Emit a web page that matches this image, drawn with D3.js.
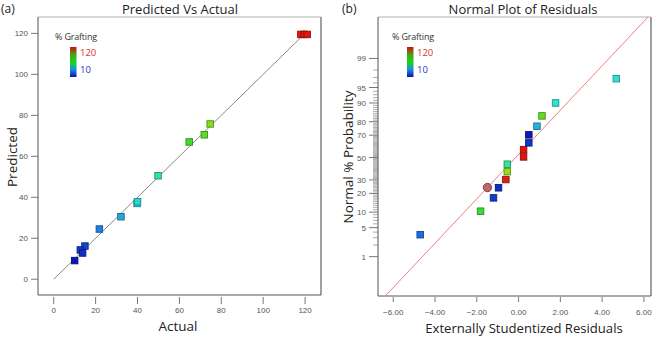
<!DOCTYPE html>
<html>
<head>
<meta charset="utf-8">
<script src="https://cdn.jsdelivr.net/npm/d3@7"></script>
<style>
  html, body { margin: 0; padding: 0; background: #fff; }
  svg { display: block; }
</style>
</head>
<body>
<div id="chart"></div>
<script>
'use strict'

// ---------- data ----------
// panel (a): predicted vs actual, % grafting
const actualVals    = [118, 119.5, 121, 74.7, 71.9, 64.7, 49.8, 39.8, 40.0, 32.1, 21.8, 14.9, 12.7, 13.8, 10.0]
const predictedVals = [119.5, 119.5, 119.5, 75.8, 70.5, 67.0, 50.5, 37.0, 37.8, 30.5, 24.5, 16.2, 14.3, 12.8, 9.1]

// panel (b): externally studentized residuals vs normal % probability
const residVals  = [-4.71, -1.82, -1.20, -0.96, -0.61, -0.54, -0.54, 0.24, 0.24, 0.49, 0.49, 0.88, 1.12, 1.77, 4.68]
const probVals   = [3.5, 10.4, 17.2, 23.9, 30.3, 37.1, 43.8, 50.6, 57.4, 63.5, 70.3, 76.9, 83.6, 90.0, 96.8]
const graftVals  = [21.8, 64.7, 14.9, 12.7, 118, 78, 49.8, 119.5, 121, 13.8, 10.0, 32.1, 71.9, 40.0, 39.8]
// highlighted run (circle)
const circleResid = -1.49, circleProb = 24.1
// normal reference line, [residual, normal score]
const refLine = [[-6.38, -3.25], [6.2, 3.30]]

const xTicksA = [0, 20, 40, 60, 80, 100, 120]
const yTicksA = [0, 20, 40, 60, 80, 100, 120]
const xTicksB = [-6, -4, -2, 0, 2, 4, 6]
const yTicksB = [1, 5, 10, 20, 30, 50, 70, 80, 90, 95, 99]

// ---------- setup ----------
const svgWidth = 660, svgHeight = 337
const svg = d3.select('#chart').append('svg')
    .attr('width', svgWidth).attr('height', svgHeight)
    .style('font-family', '"Open Sans", sans-serif')

const colorScale = d3.scaleLinear()
    .domain([10, 22, 33, 40, 50, 66, 80, 120])
    .range(['#0c1ab8', '#1c6ee0', '#28b8dc', '#2ee2d4', '#34e49a', '#3ed82c', '#9ce018', '#e01414'])

const tickFont = '"Liberation Sans Narrow", "Liberation Sans", sans-serif'

// inverse normal CDF (Acklam)
function probit(p) {
    const a = [-39.69683028665376, 220.9460984245205, -275.9285104469687, 138.3577518672690, -30.66479806614716, 2.506628277459239]
    const b = [-54.47609879822406, 161.5858368580409, -155.6989798598866, 66.80131188771972, -13.28068155211947]
    const c = [-0.007784894002430293, -0.3223964580411365, -2.400758277161838, -2.549732539343734, 4.374664141464968, 2.938163982698783]
    const d = [0.007784695709041462, 0.3224671290700398, 2.445134137142996, 3.754408661907416]
    const pl = 0.02425
    let q, r
    if (p < pl) {
        q = Math.sqrt(-2 * Math.log(p))
        return (((((c[0]*q+c[1])*q+c[2])*q+c[3])*q+c[4])*q+c[5]) / ((((d[0]*q+d[1])*q+d[2])*q+d[3])*q+1)
    } else if (p <= 1 - pl) {
        q = p - 0.5; r = q*q
        return (((((a[0]*r+a[1])*r+a[2])*r+a[3])*r+a[4])*r+a[5])*q / (((((b[0]*r+b[1])*r+b[2])*r+b[3])*r+b[4])*r+1)
    } else {
        q = Math.sqrt(-2 * Math.log(1 - p))
        return -(((((c[0]*q+c[1])*q+c[2])*q+c[3])*q+c[4])*q+c[5]) / ((((d[0]*q+d[1])*q+d[2])*q+d[3])*q+1)
    }
}

function frame(g, x0, y0, x1, y1) {
    g.append('line').attr('x1', x0).attr('x2', x1).attr('y1', y0).attr('y2', y0)
        .attr('stroke', '#b0b0b0').attr('stroke-width', 1.2)
    g.append('line').attr('x1', x1).attr('x2', x1).attr('y1', y0).attr('y2', y1)
        .attr('stroke', '#a0a0a0').attr('stroke-width', 2)
    g.append('line').attr('x1', x0).attr('x2', x0).attr('y1', y0).attr('y2', y1)
        .attr('stroke', '#555').attr('stroke-width', 1)
    g.append('line').attr('x1', x0).attr('x2', x1).attr('y1', y1).attr('y2', y1)
        .attr('stroke', '#555').attr('stroke-width', 1)
}

function legend(g, lx, ly) {
    const grad = svg.append('defs').append('linearGradient')
        .attr('id', 'grad' + lx).attr('x1', 0).attr('x2', 0).attr('y1', 1).attr('y2', 0)
    ;[['0%', '#0a10b8'], ['25%', '#1e8ed8'], ['50%', '#18d818'], ['75%', '#4aa010'], ['100%', '#d01010']]
        .forEach(s => grad.append('stop').attr('offset', s[0]).attr('stop-color', s[1]))
    g.append('text').attr('x', lx).attr('y', ly).text('% Grafting')
        .style('font-size', '9px').style('fill', '#333').style('letter-spacing', '-0.2px')
    g.append('rect').attr('x', lx + 15).attr('y', ly + 7).attr('width', 6.5).attr('height', 30)
        .attr('fill', `url(#grad${lx})`)
    g.append('text').attr('x', lx + 25).attr('y', ly + 16).text('120')
        .style('font-size', '9.5px').style('fill', '#e03030')
    g.append('text').attr('x', lx + 25).attr('y', ly + 33).text('10')
        .style('font-size', '9.5px').style('fill', '#3030d0')
}

function square(g, cx, cy, fill, s = 6.5) {
    g.append('rect')
        .attr('x', cx - s / 2).attr('y', cy - s / 2)
        .attr('width', s).attr('height', s)
        .attr('fill', fill)
        .attr('stroke', d3.color(fill).darker(1.2))
        .attr('stroke-width', 0.9)
}

// ---------- panel (a) ----------
const ga = svg.append('g')
const xA = d3.scaleLinear().domain([-7.5, 127.6]).range([38, 321])
const yA = d3.scaleLinear().domain([-7.7, 128]).range([295, 17])

frame(ga, 38, 17, 321, 295)

ga.selectAll('.ytick').data(yTicksA).join('line')
    .attr('x1', 31).attr('x2', 38).attr('y1', d => yA(d)).attr('y2', d => yA(d))
    .attr('stroke', '#555').attr('stroke-width', 0.8)
ga.selectAll('.ylab').data(yTicksA).join('text')
    .attr('x', 28).attr('y', d => yA(d) + 3).attr('text-anchor', 'end')
    .text(d => d).style('font-size', '8px').style('fill', '#555').style('font-family', tickFont)
ga.selectAll('.xtick').data(xTicksA).join('line')
    .attr('x1', d => xA(d)).attr('x2', d => xA(d)).attr('y1', 297).attr('y2', 304)
    .attr('stroke', '#555').attr('stroke-width', 0.8)
ga.selectAll('.xlab').data(xTicksA).join('text')
    .attr('x', d => xA(d)).attr('y', 313).attr('text-anchor', 'middle')
    .text(d => d).style('font-size', '8px').style('fill', '#555').style('font-family', tickFont)

ga.append('line')
    .attr('x1', xA(0)).attr('y1', yA(0)).attr('x2', xA(120)).attr('y2', yA(120))
    .attr('stroke', '#6a6a6a').attr('stroke-width', 0.8)

actualVals.forEach((a, i) => square(ga, xA(a), yA(predictedVals[i]), colorScale(predictedVals[i])))

legend(ga, 55, 40)

ga.append('text').attr('x', 180).attr('y', 13.5).attr('text-anchor', 'middle')
    .text('Predicted Vs Actual').style('font-size', '13px').style('fill', '#222')
ga.append('text').attr('x', 1).attr('y', 13).text('(a)')
    .style('font-size', '12px').style('fill', '#222')
ga.append('text').attr('x', 178).attr('y', 331).attr('text-anchor', 'middle')
    .text('Actual').style('font-size', '13.5px').style('fill', '#222')
ga.append('text').attr('transform', 'translate(17,157) rotate(-90)').attr('text-anchor', 'middle')
    .text('Predicted').style('font-size', '13.5px').style('fill', '#222')

// ---------- panel (b) ----------
const gb = svg.append('g')
const xB = d3.scaleLinear().domain([-6.73, 6.34]).range([378, 651])
const zB = d3.scaleLinear().domain([-3.25, 3.30]).range([296, 17])
const yB = p => zB(probit(p / 100))

gb.append('clipPath').attr('id', 'clipB').append('rect')
    .attr('x', 378).attr('y', 17).attr('width', 273).attr('height', 279)

const minorB = d3.range(1, 100).filter(p => !yTicksB.includes(p))
gb.selectAll('.minor').data(minorB).join('line')
    .attr('x1', 373).attr('x2', 378).attr('y1', d => yB(d)).attr('y2', d => yB(d))
    .attr('stroke', '#777').attr('stroke-width', 0.6)
gb.selectAll('.ytick').data(yTicksB).join('line')
    .attr('x1', 369).attr('x2', 378).attr('y1', d => yB(d)).attr('y2', d => yB(d))
    .attr('stroke', '#555').attr('stroke-width', 0.8)
gb.selectAll('.ylab').data(yTicksB).join('text')
    .attr('x', 366).attr('y', d => yB(d) + 3).attr('text-anchor', 'end')
    .text(d => d).style('font-size', '8px').style('fill', '#555').style('font-family', tickFont)
gb.selectAll('.xtick').data(xTicksB).join('line')
    .attr('x1', d => xB(d)).attr('x2', d => xB(d)).attr('y1', 297).attr('y2', 302)
    .attr('stroke', '#555').attr('stroke-width', 0.8)
gb.selectAll('.xlab').data(xTicksB).join('text')
    .attr('x', d => xB(d)).attr('y', 315).attr('text-anchor', 'middle')
    .text(d => d3.format('.2f')(d)).style('font-size', '8px').style('fill', '#555').style('font-family', tickFont)

frame(gb, 378, 17, 651, 296)

gb.append('line').attr('clip-path', 'url(#clipB)')
    .attr('x1', xB(refLine[0][0])).attr('y1', zB(refLine[0][1]))
    .attr('x2', xB(refLine[1][0])).attr('y2', zB(refLine[1][1]))
    .attr('stroke', '#f08080').attr('stroke-width', 1)

residVals.forEach((r, i) => square(gb, xB(r), yB(probVals[i]), colorScale(graftVals[i])))

gb.append('circle').attr('cx', xB(circleResid)).attr('cy', yB(circleProb)).attr('r', 4.2)
    .attr('fill', '#b86a6a').attr('stroke', '#7a3c3c').attr('stroke-width', 0.9)

legend(gb, 392, 40)

gb.append('text').attr('x', 523).attr('y', 13.5).attr('text-anchor', 'middle')
    .text('Normal Plot of Residuals').style('font-size', '13px').style('fill', '#222')
gb.append('text').attr('x', 342).attr('y', 13).text('(b)')
    .style('font-size', '12px').style('fill', '#222')
gb.append('text').attr('x', 524).attr('y', 333).attr('text-anchor', 'middle')
    .text('Externally Studentized Residuals').style('font-size', '13.1px').style('fill', '#222')
gb.append('text').attr('transform', 'translate(353,157) rotate(-90)').attr('text-anchor', 'middle')
    .text('Normal % Probability').style('font-size', '13.5px').style('fill', '#222')
</script>
</body>
</html>
